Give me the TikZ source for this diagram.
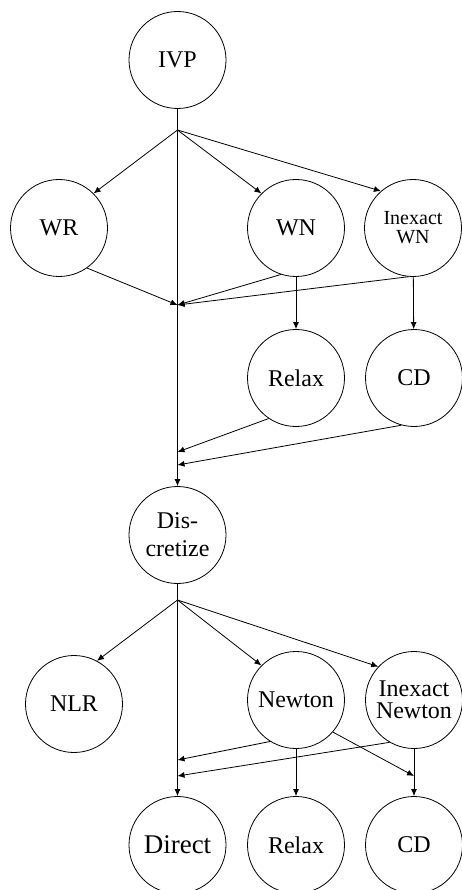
\documentclass[tikz,border=0pt]{standalone}
\usepackage{fontspec}
\setmainfont{Liberation Serif}
\usetikzlibrary{arrows.meta}
\begin{document}
\begin{tikzpicture}[x=1pt,y=-1pt,
  state/.style={circle,draw,line width=0.8pt,minimum size=97pt,inner sep=0pt,align=center,font=\fontsize{24}{21}\selectfont},
  arr/.style={line width=0.8pt,-{Latex[length=7pt,width=6pt]}},
  ln/.style={line width=0.8pt}]
\useasboundingbox (0,0) rectangle (461,890);
% nodes
\node[state] (IVP) at (177.5,60) {IVP};
\node[state] (WR) at (59,228) {WR};
\node[state] (WN) at (296,228) {WN};
\node[state,font=\fontsize{20}{19}\selectfont] (IWN) at (413,228) {Inexact\\WN};
\node[state] (Relax1) at (296,378) {Relax};
\node[state] (CD1) at (414,378) {CD};
\node[state,font=\fontsize{24}{28}\selectfont] (Disc) at (177.5,535) {Dis-\\cretize};
\node[state] (NLR) at (74,704) {NLR};
\node[state] (Newton) at (296,700) {Newton};
\node[state,font=\fontsize{24}{22.5}\selectfont] (INewton) at (414,700) {Inexact\\Newton};
\node[state,font=\fontsize{27}{27}\selectfont] (Direct) at (177.5,845) {Direct};
\node[state] (Relax2) at (296,845) {Relax};
\node[state] (CD2) at (414,845) {CD};
% junction points
\coordinate (f1) at (177.5,130);
\coordinate (m1) at (177.5,305);
\coordinate (m2) at (177.5,452);
\coordinate (m3) at (177.5,465);
\coordinate (f2) at (177.5,600);
\coordinate (m4) at (177.5,760);
\coordinate (m5) at (177.5,776);
\coordinate (m6) at (414,776);
% upper part
\draw[ln] (IVP) -- (f1);
\draw[arr] (f1) -- (Disc);
\draw[arr] (f1) -- (WR.45);
\draw[arr] (f1) -- (WN.135);
\draw[arr] (f1) -- (IWN.131);
\draw[arr] (WR.-55) -- (m1);
\draw[arr] (WN.-108) -- (m1);
\draw[arr] (IWN.-95) -- (m1);
\draw[arr] (WN) -- (Relax1);
\draw[arr] (IWN) -- (CD1);
\draw[arr] (Relax1.-124) -- (m2);
\draw[arr] (CD1.-105) -- (m3);
% lower part
\draw[ln] (Disc) -- (f2);
\draw[arr] (f2) -- (Direct);
\draw[arr] (f2) -- (NLR.62);
\draw[arr] (f2) -- (Newton.135);
\draw[arr] (f2) -- (INewton.137);
\draw[arr] (Newton.-122) -- (m4);
\draw[arr] (INewton.-120) -- (m5);
\draw[arr] (Newton.-41) -- (m6);
\draw[arr] (Newton) -- (Relax2);
\draw[arr] (INewton) -- (CD2);
\end{tikzpicture}
\end{document}
